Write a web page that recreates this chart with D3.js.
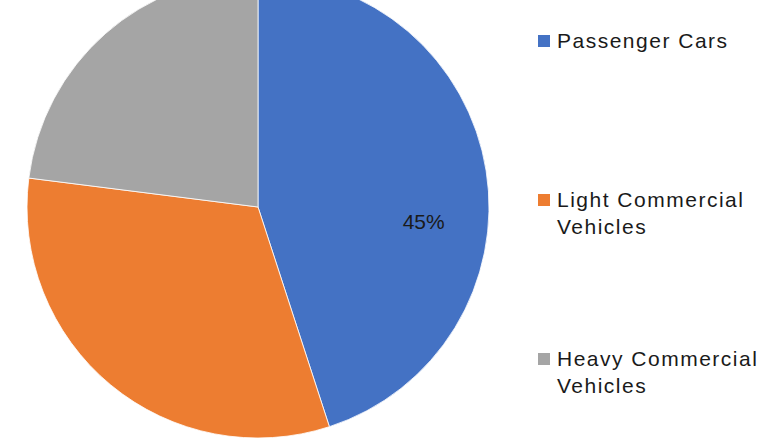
<!DOCTYPE html>
<html>
<head>
<meta charset="utf-8">
<script src="https://cdn.jsdelivr.net/npm/d3@7"></script>
<style>
  body { margin: 0; background: #fff; }
  text { font-family: "Liberation Sans", Arial, sans-serif; fill: #1a1a1a; }
</style>
</head>
<body>
<div id="chart"></div>
<script>
// vehicle type share
let categories = ["Passenger Cars", "Light Commercial Vehicles", "Heavy Commercial Vehicles"];
let shares = [45, 32, 23];
let shownLabels = ["45%", "", ""];
let legendLines = [["Passenger Cars"], ["Light Commercial", "Vehicles"], ["Heavy Commercial", "Vehicles"]];
let colors = ["#4472C4", "#ED7D31", "#A5A5A5"];

let width = 780, height = 440;

let svg = d3.select("#chart")
    .append("svg")
    .attr("width", width)
    .attr("height", height);

//pie geometry
let cx = 258, cy = 207, radius = 231;

let pie = d3.pie()
    .sort(null)
    .value(d => d.value);

let data = categories.map((c, i) => ({name: c, value: shares[i], label: shownLabels[i]}));

let arc = d3.arc()
    .innerRadius(0)
    .outerRadius(radius);

let labelArc = d3.arc()
    .innerRadius(radius * 0.72)
    .outerRadius(radius * 0.72);

let g = svg.append("g")
    .attr("transform", "translate(" + cx + "," + cy + ")");

g.selectAll(".slice")
    .data(pie(data))
    .enter().append("path")
    .attr("class", "slice")
    .attr("d", arc)
    .attr("fill", (d, i) => colors[i])
    .attr("stroke", "#fff")
    .attr("stroke-width", 0.8);

// excel moved the label a bit below the slice middle
g.selectAll(".slice-label")
    .data(pie(data))
    .enter().append("text")
    .attr("class", "slice-label")
    .attr("transform", d => {
        let mid = (d.startAngle + d.endAngle) / 2 + 0.245;
        let c = labelArc.centroid({startAngle: mid, endAngle: mid});
        return "translate(" + c[0] + "," + c[1] + ")";
    })
    .attr("text-anchor", "middle")
    .attr("dy", "0.36em")
    .style("font-size", "21px")
    .text(d => d.data.label);

//legend
let legend = svg.append("g")
    .attr("transform", "translate(538,0)");

let legendY = d3.scalePoint()
    .domain(categories)
    .range([48, 366]);

let items = legend.selectAll(".legend-item")
    .data(categories)
    .enter().append("g")
    .attr("class", "legend-item")
    .attr("transform", d => "translate(0," + legendY(d) + ")");

items.append("rect")
    .attr("x", 0)
    .attr("y", -13)
    .attr("width", 12)
    .attr("height", 12)
    .attr("fill", (d, i) => colors[i]);

items.append("text")
    .attr("x", 19)
    .style("font-size", "21px")
    .style("letter-spacing", "1.5px")
    .selectAll("tspan")
    .data((d, i) => legendLines[i])
    .enter().append("tspan")
    .attr("x", 19)
    .attr("dy", (d, j) => j === 0 ? 0 : 27)
    .text(d => d);
</script>
</body>
</html>
